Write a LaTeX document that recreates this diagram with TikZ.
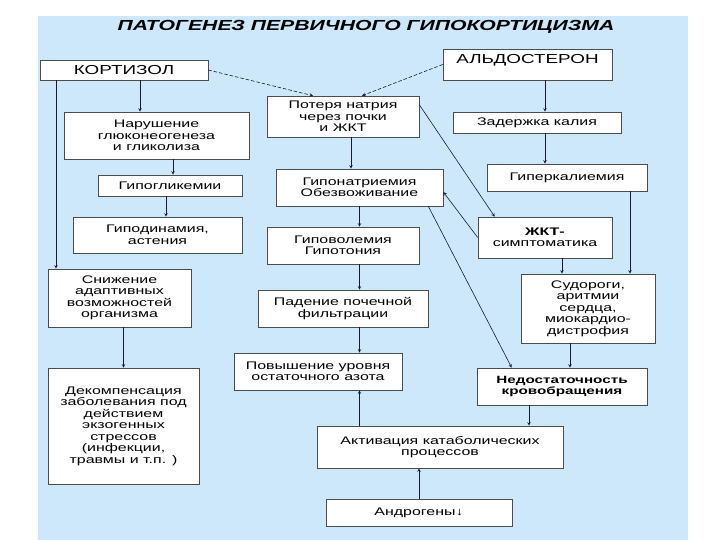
\documentclass[tikz,border=0pt]{standalone}
\usepackage{fontspec}
\setmainfont[FakeStretch=1.45]{Liberation Sans}
\usepackage{tikz}
\usetikzlibrary{arrows.meta, positioning, calc}
\definecolor{panelblue}{RGB}{204,232,250}
\definecolor{linedark}{RGB}{25,25,45}

\begin{document}
\begin{tikzpicture}[
        x=1pt, y=-1pt,
        box/.style={rectangle, draw=black!70, fill=white, line width=0.6pt, inner sep=2pt, align=center, font=\fontsize{11}{11.5}\selectfont},
        hormone/.style={box, font=\fontsize{13}{14}\selectfont},
        arrow/.style={->, >=stealth, line width=0.6pt, draw=linedark},
        dasharrow/.style={arrow, dash pattern=on 3.5pt off 2pt}
    ]
    \useasboundingbox (0,0) rectangle (720,540);
    \fill [panelblue] (38,16) rectangle (688,540);

    \node (title) [font=\bfseries\itshape\fontsize{14.6}{16}\selectfont] at (366,27) {ПАТОГЕНЕЗ ПЕРВИЧНОГО ГИПОКОРТИЦИЗМА};

    \node (cortisol) [hormone, minimum width=168pt, minimum height=20pt] at (124,70) {КОРТИЗОЛ};
    \node (narush) [box, minimum width=185pt, minimum height=47pt] at (156.5,135.5) {Нарушение\\глюконеогенеза\\и гликолиза};
    \node (hypogl) [box, minimum width=144pt, minimum height=21pt] at (170,185.5) {Гипогликемии};
    \node (hypodyn) [box, minimum width=169pt, minimum height=36pt] at (157.5,235) {Гиподинамия,\\астения};
    \node (snizh) [box, minimum width=143pt, minimum height=58pt] at (119.5,298) {Снижение\\адаптивных\\возможностей\\организма};
    \node (dekomp) [box, minimum width=151pt, minimum height=116pt] at (123.5,426) {Декомпенсация\\заболевания под\\действием\\экзогенных\\стрессов\\(инфекции,\\травмы и т.п. )};

    \node (poterya) [box, minimum width=152pt, minimum height=41pt] at (343,116.5) {Потеря натрия\\через почки\\и ЖКТ};
    \node (hyponat) [box, minimum width=167pt, minimum height=37pt] at (359.5,187.5) {Гипонатриемия\\Обезвоживание};
    \node (hypovol) [box, minimum width=152pt, minimum height=37pt] at (343,245.5) {Гиповолемия\\Гипотония};
    \node (padenie) [box, minimum width=170pt, minimum height=37pt] at (343,308.5) {Падение почечной\\фильтрации};
    \node (povysh) [box, minimum width=168pt, minimum height=37pt] at (318,371.5) {Повышение уровня\\остаточного азота};

    \node (aldo) [hormone, minimum width=169pt, minimum height=31pt, text depth=12pt] at (527.5,64.5) {АЛЬДОСТЕРОН};
    \node (zader) [box, minimum width=168pt, minimum height=21pt] at (537,122.5) {Задержка калия};
    \node (hyperk) [box, minimum width=160pt, minimum height=27pt] at (567,177.5) {Гиперкалиемия};
    \node (gkt) [box, minimum width=134pt, minimum height=41pt] at (545,237.5) {\textbf{ЖКТ-}\\симптоматика};
    \node (sudor) [box, minimum width=134pt, minimum height=69pt] at (588,308.5) {Судороги,\\аритмии\\сердца,\\миокардио-\\дистрофия};
    \node (nedost) [box, minimum width=170pt, minimum height=37pt, font=\bfseries\fontsize{10.5}{11.5}\selectfont] at (562,386.5) {Недостаточность\\кровобращения};

    \node (aktiv) [box, minimum width=246pt, minimum height=42pt] at (440,447) {Активация катаболических\\процессов};
    \node (andro) [box, minimum width=186pt, minimum height=27pt] at (419,512.5) {Андрогены↓};

    \draw [arrow] ([xshift=16pt]cortisol.south) -- ([xshift=-16.5pt]narush.north);
    \draw [arrow] ([xshift=16.5pt]narush.south) -- ([xshift=3pt]hypogl.north);
    \draw [arrow] ([xshift=-4pt]hypogl.south) -- ([xshift=8.5pt]hypodyn.north);
    \draw [arrow] ([xshift=-68pt]cortisol.south) -- ([xshift=-63.5pt]snizh.north);
    \draw [arrow] ([xshift=4pt]snizh.south) -- (dekomp.north);

    \draw [dasharrow] (cortisol.east) -- ([xshift=-30pt]poterya.north);
    \draw [dasharrow] (aldo.west) -- ([xshift=19pt]poterya.north);

    \draw [arrow] ([xshift=17.5pt]aldo.south) -- ([xshift=8pt]zader.north);
    \draw [arrow] ([xshift=8pt]zader.south) -- ([xshift=-22pt]hyperk.north);

    \draw [arrow] ([xshift=8pt]poterya.south) -- ([xshift=-8.5pt]hyponat.north);
    \draw [arrow] ([yshift=-9pt]poterya.north east) -- ([xshift=17pt]gkt.north west);
    \draw [arrow] (gkt.west) -- ([yshift=-4.5pt]hyponat.east);
    \draw [arrow] ([xshift=-15pt]hyponat.south east) -- ([xshift=35pt]nedost.north west);
    \draw [arrow] (hyponat.south) -- ([xshift=16.5pt]hypovol.north);
    \draw [arrow] ([xshift=16.5pt]hypovol.south) -- ([xshift=16.5pt]padenie.north);
    \draw [arrow] ([xshift=16.5pt]padenie.south) -- ([xshift=41.5pt]povysh.north);
    \draw [arrow] ([xshift=-80.5pt]aktiv.north) -- ([xshift=41.5pt]povysh.south);

    \draw [arrow] ([xshift=17pt]gkt.south) -- ([xshift=-26pt]sudor.north);
    \draw [arrow] ([xshift=63pt]hyperk.south) -- ([xshift=42pt]sudor.north);
    \draw [arrow] ([xshift=-18pt]sudor.south) -- ([xshift=8pt]nedost.north);
    \draw [arrow] ([xshift=-33pt]nedost.south) -- ([xshift=89pt]aktiv.north);
    \draw [arrow] (andro.north) -- ([xshift=-21pt]aktiv.south);

    \end{tikzpicture}
\end{document}
